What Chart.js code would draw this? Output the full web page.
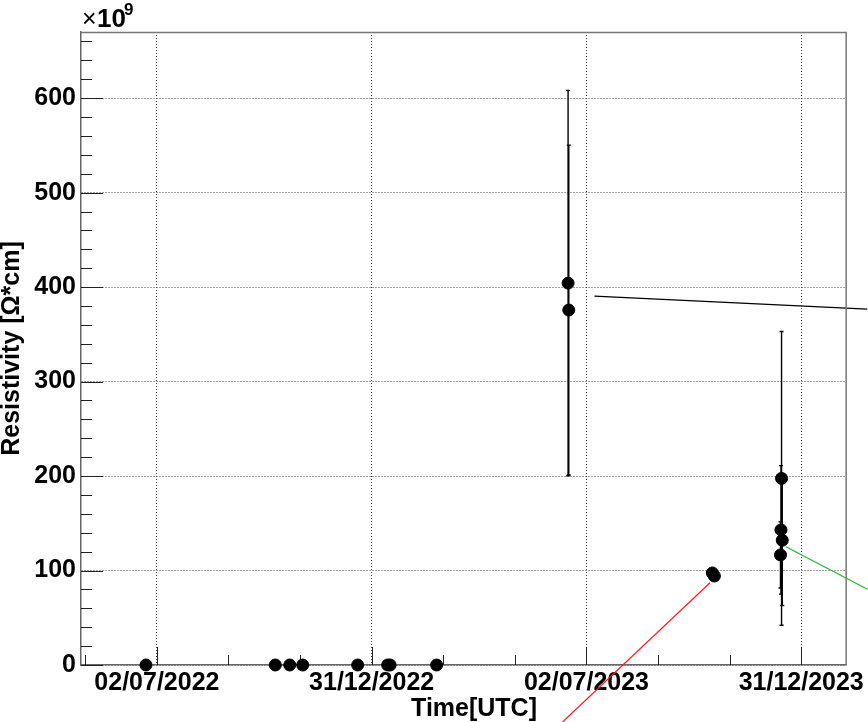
<!DOCTYPE html>
<html>
<head>
<meta charset="utf-8">
<script src="https://cdn.jsdelivr.net/npm/chart.js@4"></script>
<style>
  html, body { margin: 0; padding: 0; background: #fff; }
  #wrap { width: 868px; height: 722px; position: relative; }
</style>
</head>
<body>
<div id="wrap"><canvas id="resistivity_chart"></canvas></div>
<script>
// days counted from 02/07/2022
const xMajorDays = [0, 182.5, 365, 547.5];
const xMajorLabels = ['02/07/2022', '31/12/2022', '02/07/2023', '31/12/2023'];
const yMajorTicks = [0, 100, 200, 300, 400, 500, 600];

const timeDays = [-9.3, 100.6, 112.9, 123.9, 170.6, 196.1, 198.2, 237.7,
                  349.4, 350.0, 472.0, 473.7, 530.8, 530.3, 531.4, 529.9];
const resistivity = [0, 0, 0, 0, 0, 0, 0, 0,
                     404.2, 375.7, 97.4, 94.2, 197.5, 143, 132, 116.5];
const resistivityErr = [0, 0, 0, 0, 0, 0, 0, 0,
                        204, 174.6, 0, 0, 155.5, 68, 69, 35];

const blackLineX = [371.8, 603.6];
const blackLineY = [390.5, 376.7];
const redLineX = [470.0, 344.7];
const redLineY = [87.0, -60.3];
const greenLineX = [534.5, 603.8];
const greenLineY = [125.2, 80.1];

const FONT = '"Liberation Sans", Arial, sans-serif';

const toPoints = (xs, ys) => xs.map((v, i) => ({x: v, y: ys[i]}));

const rootFrame = {
  id: 'rootFrame',
  beforeDatasetsDraw(chart) {
    const {ctx, chartArea: {left, top, right, bottom}, scales: {x, y}} = chart;
    ctx.save();
    ctx.strokeStyle = '#222';
    ctx.lineWidth = 1;
    // x ticks (3 subdivisions)
    const xStep = 182.5 / 3;
    for (let i = -2; i < 12; i++) {
      const v = i * xStep;
      if (v < x.min || v > x.max) continue;
      const px = Math.round(x.getPixelForValue(v)) + 0.5;
      const len = i % 3 === 0 ? 18 : 10;
      ctx.beginPath();
      ctx.moveTo(px, bottom);
      ctx.lineTo(px, bottom - len);
      ctx.stroke();
    }
    // y ticks (5 subdivisions)
    for (let v = 0; v <= y.max; v += 20) {
      const py = Math.round(y.getPixelForValue(v)) + 0.5;
      const len = v % 100 === 0 ? 22 : 11;
      ctx.beginPath();
      ctx.moveTo(left, py);
      ctx.lineTo(left + len, py);
      ctx.stroke();
    }
    // error bars
    ctx.strokeStyle = '#000';
    ctx.lineWidth = 1.4;
    timeDays.forEach((t, i) => {
      const e = resistivityErr[i];
      if (!e) return;
      const px = x.getPixelForValue(t);
      const y1 = y.getPixelForValue(resistivity[i] + e);
      const y2 = y.getPixelForValue(resistivity[i] - e);
      ctx.beginPath();
      ctx.moveTo(px, y1);
      ctx.lineTo(px, y2);
      ctx.moveTo(px - 2, y1);
      ctx.lineTo(px + 2, y1);
      ctx.moveTo(px - 2, y2);
      ctx.lineTo(px + 2, y2);
      ctx.stroke();
    });
    ctx.restore();
  },
  afterDraw(chart) {
    const {ctx, chartArea: {left, top, right, bottom}} = chart;
    ctx.save();
    ctx.strokeStyle = '#777';
    ctx.lineWidth = 1.5;
    ctx.beginPath();
    ctx.moveTo(left, top + 0.5);
    ctx.lineTo(right, top + 0.5);
    ctx.lineTo(right, bottom);
    ctx.stroke();
    // axis title and exponent
    ctx.fillStyle = '#000';
    ctx.textBaseline = 'alphabetic';
    ctx.textAlign = 'right';
    ctx.font = 'bold 25px ' + FONT;
    ctx.fillText('Time[UTC]', 537, 716);
    ctx.textAlign = 'left';
    ctx.font = '25px ' + FONT;
    ctx.fillText('\u00d7', 82, 27);
    ctx.font = 'bold 26px ' + FONT;
    ctx.fillText('10', 97, 27);
    ctx.font = 'bold 17px ' + FONT;
    ctx.fillText('9', 124, 15);
    ctx.restore();
  }
};

function make_chart() {
  new Chart(document.getElementById('resistivity_chart'), {
    type: 'scatter',
    data: {
      datasets: [
        {
          label: 'Resistivity',
          data: toPoints(timeDays, resistivity),
          backgroundColor: '#000',
          borderColor: '#000',
          pointRadius: 6,
          pointHoverRadius: 6,
          clip: false
        },
        {
          data: toPoints(blackLineX, blackLineY),
          showLine: true, pointRadius: 0, borderColor: '#000', borderWidth: 1.2, clip: false
        },
        {
          data: toPoints(redLineX, redLineY),
          showLine: true, pointRadius: 0, borderColor: '#ff1a1a', borderWidth: 1.2, clip: false
        },
        {
          data: toPoints(greenLineX, greenLineY),
          showLine: true, pointRadius: 0, borderColor: '#22b830', borderWidth: 1.2, clip: false
        }
      ]
    },
    options: {
      responsive: true,
      maintainAspectRatio: false,
      animation: false,
      layout: { padding: { left: 0, top: 32, right: 21, bottom: 0 } },
      plugins: { legend: { display: false }, tooltip: { enabled: false } },
      scales: {
        x: {
          type: 'linear',
          min: -64.5,
          max: 585.7,
          afterBuildTicks: (scale) => { scale.ticks = xMajorDays.map(v => ({value: v})); },
          afterFit: (scale) => { scale.height = 57; },
          grid: { color: '#444', lineWidth: 1, drawTicks: false },
          border: { display: true, color: '#666', width: 1.5, dash: [1, 2] },
          ticks: {
            autoSkip: false,
            maxRotation: 0,
            padding: 3,
            color: '#000',
            font: { family: FONT, size: 25, weight: 'bold' },
            callback: (value, index) => xMajorLabels[index]
          }
        },
        y: {
          min: 0,
          max: 670,
          afterBuildTicks: (scale) => { scale.ticks = yMajorTicks.map(v => ({value: v})); },
          afterFit: (scale) => { scale.width = 81; },
          grid: { color: '#444', lineWidth: 1, drawTicks: false },
          border: { display: true, color: '#666', width: 1.5, dash: [1, 2] },
          title: {
            display: true,
            text: 'Resistivity [\u03a9*cm]',
            color: '#000',
            padding: 0,
            font: { family: FONT, size: 25, weight: 'bold', lineHeight: 1 }
          },
          ticks: {
            padding: 5,
            color: '#000',
            font: { family: FONT, size: 25, weight: 'bold' }
          }
        }
      }
    },
    plugins: [rootFrame]
  });
}

make_chart();
</script>
</body>
</html>
